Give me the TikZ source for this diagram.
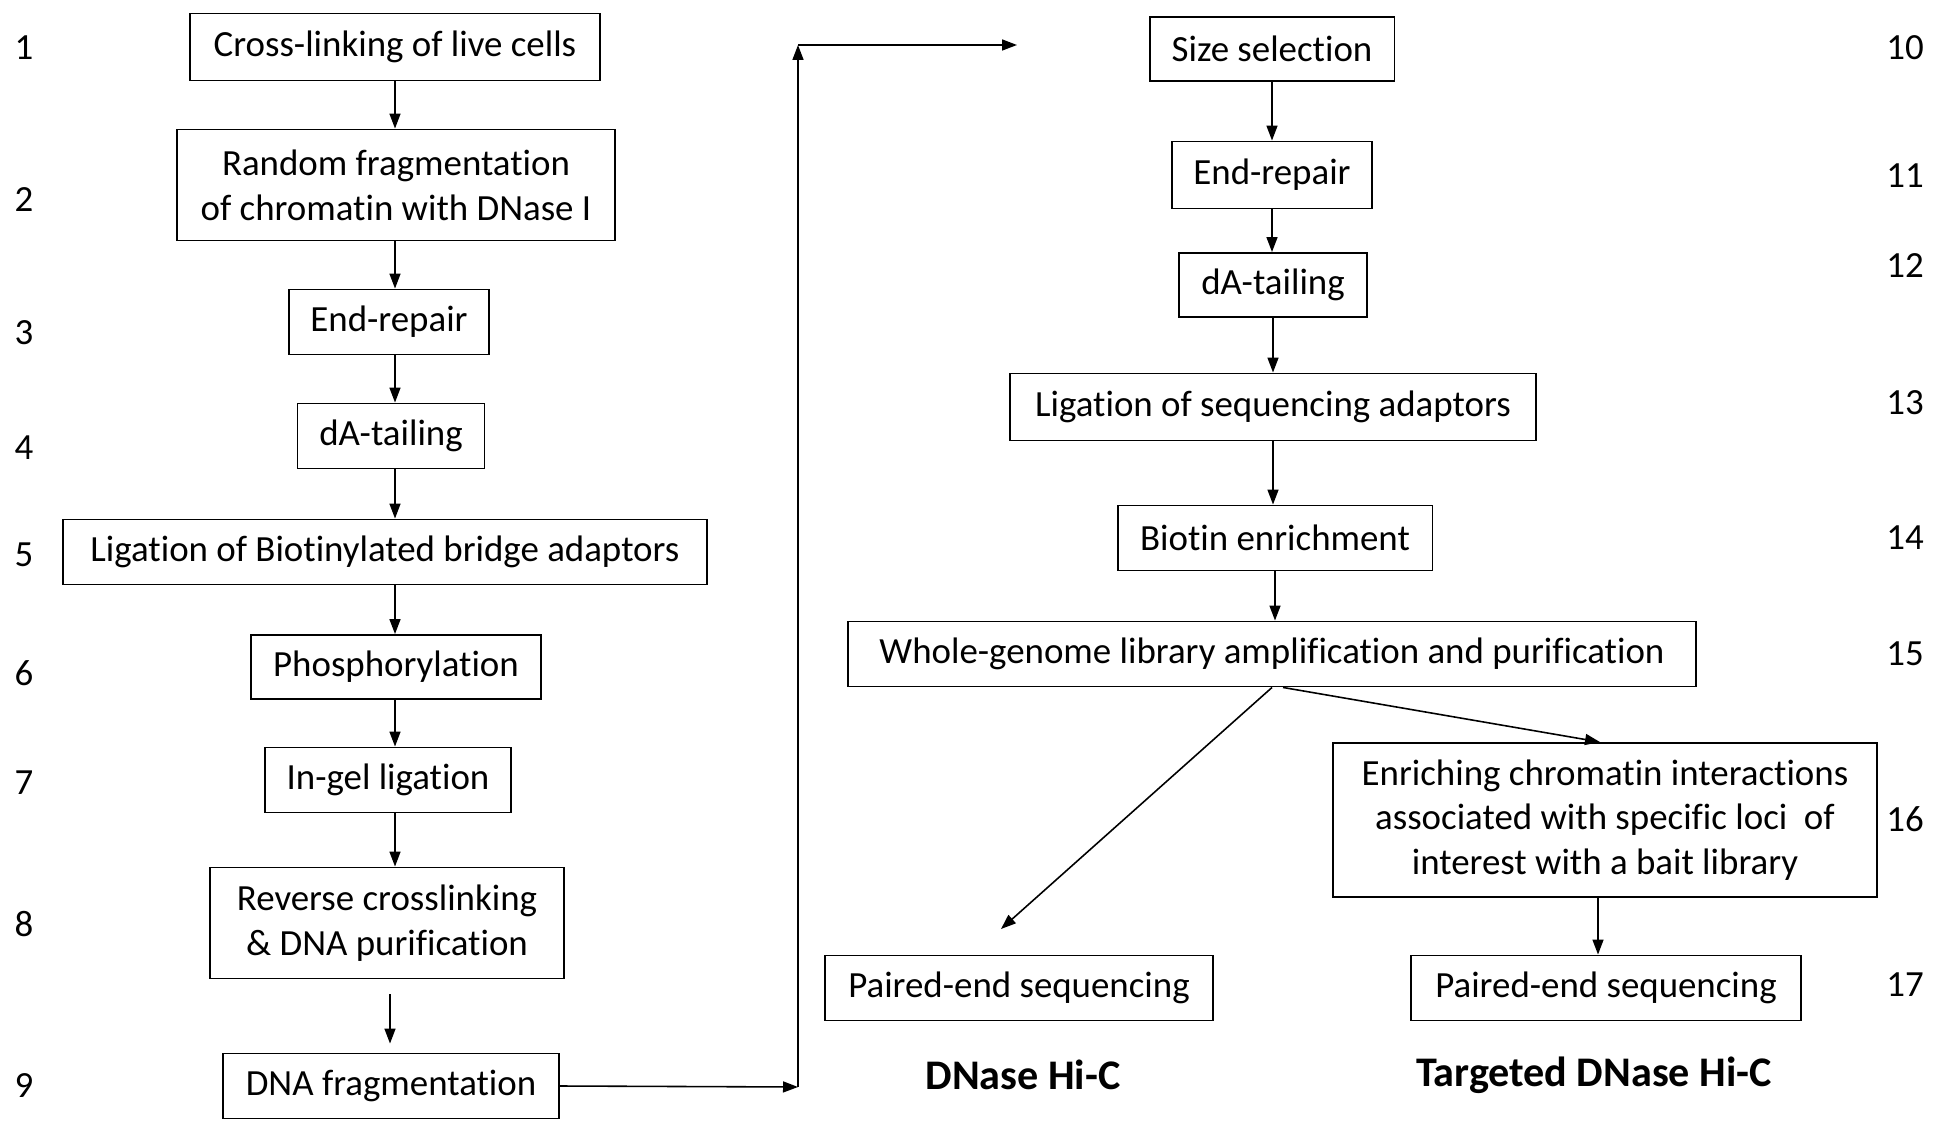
\documentclass[tikz,border=0pt]{standalone}
\usepackage{fontspec}
\setmainfont{Carlito}[Ligatures=NoCommon]
\usetikzlibrary{arrows.meta,positioning}
\tikzset{
  stepbox/.style={draw=black,line width=1.1pt,inner sep=2pt,align=center,
                  font=\fontsize{21}{25.5}\selectfont},
  stepnum/.style={font=\fontsize{21}{24}\selectfont,inner sep=0pt},
  steparr/.style={-{Triangle[length=3mm,width=2.2mm]},line width=0.9pt},
  tagline/.style={font=\fontsize{24}{28}\selectfont\bfseries,inner sep=0pt}
}
\begin{document}
\begin{tikzpicture}[x=0.02cm,y=-0.02cm]
  \useasboundingbox (0,0) rectangle (1934,1125);
  % step numbers
  \foreach \n/\y in {1/48,2/200,3/333,4/448,5/555,6/673,7/783,8/924,9/1086}
    \node[stepnum] (n\n) at (24,\y) {\n};
  \foreach \n/\y in {10/48,11/176,12/266,13/403,14/538,15/654,16/819,17/985}
    \node[stepnum] (n\n) at (1905,\y) {\n};
  % left column
  \node[stepbox,minimum width=8.22cm,minimum height=1.34cm] (s1) at (395,47) {Cross-linking of live cells};
  \node[stepbox,minimum width=8.76cm,minimum height=2.22cm] (s2) at (396,185) {Random fragmentation\\of chromatin with DNase I};
  \node[stepbox,minimum width=4.0cm,minimum height=1.3cm] (s3) at (389,322) {End-repair};
  \node[stepbox,minimum width=3.74cm,minimum height=1.3cm] (s4) at (391,436) {dA-tailing};
  \node[stepbox,minimum width=12.9cm,minimum height=1.3cm] (s5) at (385,552) {Ligation of Biotinylated bridge adaptors};
  \node[stepbox,minimum width=5.8cm,minimum height=1.28cm] (s6) at (396,667) {Phosphorylation};
  \node[stepbox,minimum width=4.92cm,minimum height=1.3cm] (s7) at (388,780) {In-gel ligation};
  \node[stepbox,minimum width=7.08cm,minimum height=2.22cm] (s8) at (387,923) {Reverse crosslinking\\\& DNA purification};
  \node[stepbox,minimum width=6.72cm,minimum height=1.3cm] (s9) at (391,1086) {DNA fragmentation};
  % right column
  \node[stepbox,minimum width=4.9cm,minimum height=1.28cm] (s10) at (1272,49) {Size selection};
  \node[stepbox,minimum width=4.0cm,minimum height=1.34cm] (s11) at (1272,175) {End-repair};
  \node[stepbox,minimum width=3.76cm,minimum height=1.28cm] (s12) at (1273,285) {dA-tailing};
  \node[stepbox,minimum width=10.54cm,minimum height=1.34cm] (s13) at (1273,407) {Ligation of sequencing adaptors};
  \node[stepbox,minimum width=6.3cm,minimum height=1.3cm] (s14) at (1275,538) {Biotin enrichment};
  \node[stepbox,minimum width=16.98cm,minimum height=1.3cm] (s15) at (1272,654) {Whole-genome library amplification and purification};
  \node[stepbox,minimum width=10.88cm,minimum height=3.08cm] (s16) at (1605,820) {Enriching chromatin interactions\\associated with specific loci~ of\\interest with a bait library};
  \node[stepbox,minimum width=7.76cm,minimum height=1.3cm] (s17a) at (1019,988) {Paired-end sequencing};
  \node[stepbox,minimum width=7.8cm,minimum height=1.3cm] (s17b) at (1606,988) {Paired-end sequencing};
  \node[tagline] (dhc) at (1023,1075) {DNase Hi-C};
  \node[tagline] (tdhc) at (1594,1075) {Targeted DNase Hi-C};
  % connectors
  \coordinate (lax) at (395,0);
  \foreach \a/\b in {1/2,2/3,3/4,4/5,5/6,6/7,7/8}
    \draw[steparr] (s\a.south -| lax) -- (s\b.north -| lax);
  \draw[steparr,shorten <=0.3cm,shorten >=0.18cm] ([xshift=-0.1cm]s8.south -| lax) -- ([xshift=-0.1cm]s9.north -| lax);
  \foreach \a/\b in {10/11,11/12,12/13,13/14,14/15}
    \draw[steparr] (s\a.south) -- (s\a.south |- s\b.north);
  \coordinate (lb) at (798,1087);
  \coordinate (lt) at (798,45);
  \coordinate (le) at (1017,45);
  \draw[steparr] (s9.east) -- (lb);
  \draw[steparr] (lb) -- (lt);
  \draw[steparr] (lt) -- (le);
  \coordinate (dl) at (1001,929);
  \draw[steparr] (s15.south) -- (dl);
  \draw[steparr] ([xshift=0.22cm]s15.south) -- ([xshift=-0.1cm]s16.north);
  \draw[steparr] ([xshift=-0.14cm]s16.south) -- ([xshift=-0.14cm]s16.south |- s17b.north);
\end{tikzpicture}
\end{document}
